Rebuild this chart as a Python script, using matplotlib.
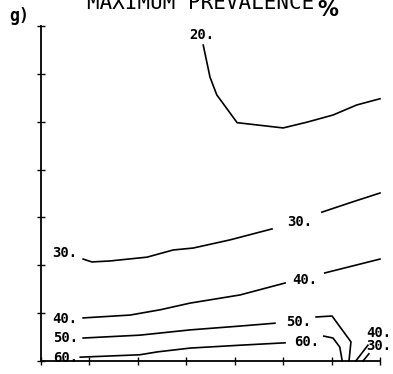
import matplotlib
matplotlib.use("Agg")
import matplotlib.pyplot as plt

# contour lines (data units: x 0..7, y 0..7)
c20_x = [3.35, 3.49, 3.63, 4.05, 5.00, 5.49, 6.03, 6.52, 7.00]
c20_y = [6.60, 5.93, 5.56, 4.98, 4.87, 4.99, 5.14, 5.35, 5.48]

c30a_x = [0.87, 1.05, 1.42, 2.19, 2.73, 3.14, 3.90, 4.77]
c30a_y = [2.13, 2.07, 2.09, 2.17, 2.32, 2.36, 2.53, 2.76]
c30b_x = [5.80, 6.42, 7.00]
c30b_y = [3.11, 3.32, 3.51]

c40a_x = [0.87, 1.84, 2.46, 3.08, 4.11, 5.04]
c40a_y = [0.90, 0.96, 1.07, 1.21, 1.38, 1.63]
c40b_x = [5.86, 7.00]
c40b_y = [1.84, 2.13]

c50a_x = [0.87, 2.04, 3.08, 4.11, 4.83]
c50a_y = [0.48, 0.54, 0.65, 0.73, 0.79]
c50b_x = [5.68, 6.01, 6.40, 6.36]
c50b_y = [0.92, 0.94, 0.40, 0.00]

c60a_x = [0.81, 2.04, 2.40, 3.08, 4.11, 5.04]
c60a_y = [0.08, 0.13, 0.19, 0.27, 0.33, 0.38]
c60b_x = [5.84, 6.03, 6.17, 6.22]
c60b_y = [0.52, 0.48, 0.29, 0.00]

c40c_x = [6.50, 6.75]
c40c_y = [0.00, 0.33]
c30c_x = [6.65, 6.77]
c30c_y = [0.00, 0.15]

label_text = ["20.", "30.", "30.", "40.", "40.", "50.", "50.", "60.", "60.", "40.", "30."]
label_x = [3.32, 0.50, 5.35, 0.50, 5.45, 0.50, 5.31, 0.50, 5.49, 6.97, 6.97]
label_y = [6.81, 2.26, 2.90, 0.88, 1.69, 0.48, 0.81, 0.06, 0.40, 0.58, 0.32]

ticks = [0, 1, 2, 3, 4, 5, 6, 7]

W, H = 393, 374
fig = plt.figure(figsize=(W / 100, H / 100), dpi=100)
ax = fig.add_axes([41 / W, (H - 361) / H, (380 - 41) / W, (361 - 26) / H])
ax.set_xlim(0, 7)
ax.set_ylim(0, 7)
ax.patch.set_alpha(0)
for s in ["top", "right"]:
    ax.spines[s].set_visible(False)
for s in ["left", "bottom"]:
    ax.spines[s].set_linewidth(1.3)
ax.set_xticks(ticks)
ax.set_yticks(ticks)
ax.tick_params(direction="inout", length=6, width=1.0, labelbottom=False, labelleft=False)

lines = [(c20_x, c20_y), (c30a_x, c30a_y), (c30b_x, c30b_y), (c40a_x, c40a_y),
         (c40b_x, c40b_y), (c50a_x, c50a_y), (c50b_x, c50b_y), (c60a_x, c60a_y),
         (c60b_x, c60b_y), (c40c_x, c40c_y), (c30c_x, c30c_y)]
for xs, ys in lines:
    ax.plot(xs, ys, color="black", lw=1.2, clip_on=False)

for t, x, y in zip(label_text, label_x, label_y):
    ax.text(x, y, t, fontsize=10, family="DejaVu Sans Mono", fontweight="bold",
            ha="center", va="center", color="black", clip_on=False)

fig.text(87 / W, 1 - 9 / H, "MAXIMUM PREVALENCE", fontsize=15, family="DejaVu Sans Mono",
         ha="left", va="baseline", color="black")
fig.text(317 / W, 1 - 16 / H, "%", fontsize=15, fontweight="bold", ha="left", va="baseline")
fig.text(9 / W, 1 - 21 / H, "g)", fontsize=12, fontweight="bold", family="DejaVu Sans Mono",
         ha="left", va="baseline")

fig.savefig("out.png", dpi=100)
